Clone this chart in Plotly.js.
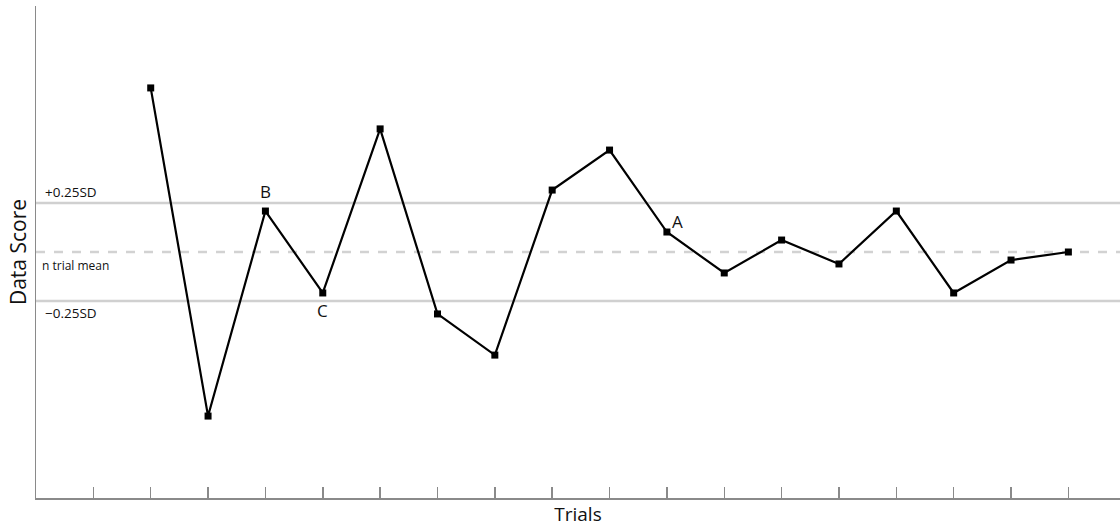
<!DOCTYPE html>
<html>
<head>
<meta charset="utf-8">
<script src="https://cdn.plot.ly/plotly-3.0.1.min.js"></script>
<style>html,body{margin:0;padding:0;background:#fff;}#chart{width:1120px;height:527px;}</style>
</head>
<body>
<div id="chart"></div>
<script>
// Data (score in SD units relative to the n-trial mean)
const trials = [2, 3, 4, 5, 6, 7, 8, 9, 10, 11, 12, 13, 14, 15, 16, 17, 18];
const scores = [0.837, -0.837, 0.209, -0.209, 0.628, -0.316, -0.526, 0.316, 0.520, 0.102, -0.107, 0.061, -0.061, 0.209, -0.209, -0.041, 0.0];
const tickTrials = [1, 2, 3, 4, 5, 6, 7, 8, 9, 10, 11, 12, 13, 14, 15, 16, 17, 18];
const bandLevels = [0.25, 0, -0.25];
const bandLabels = ["+0.25SD", "n trial mean", "\u22120.25SD"];
const pointLabels = [{x: 4, y: 0.209, t: "B"}, {x: 5, y: -0.209, t: "C"}, {x: 11, y: 0.102, t: "A"}];

const font = "'Open Sans', 'Liberation Sans', sans-serif";

const shapes = bandLevels.map((lv, i) => ({
  type: "line", xref: "paper", yref: "y", x0: 0, x1: 1, y0: lv, y1: lv,
  line: {color: i === 1 ? "#d2d2d2" : "#d0d0d0", width: 2.5, dash: i === 1 ? "dash" : "solid"},
  layer: "below"
}));

const annotations = [
  {xref: "paper", yref: "y", x: 0.006, y: bandLevels[0], text: bandLabels[0], showarrow: false,
   xanchor: "left", yanchor: "bottom", yshift: 0, font: {family: font, size: 13.5, color: "#111"}},
  {xref: "paper", yref: "y", x: 0.004, y: bandLevels[1], text: bandLabels[1], showarrow: false,
   xanchor: "left", yanchor: "top", yshift: -3, font: {family: font, size: 12, color: "#111"}},
  {xref: "paper", yref: "y", x: 0.006, y: bandLevels[2], text: bandLabels[2], showarrow: false,
   xanchor: "left", yanchor: "top", yshift: -1, font: {family: font, size: 13.5, color: "#111"}},
  {x: pointLabels[0].x, y: pointLabels[0].y, text: pointLabels[0].t, showarrow: false,
   xanchor: "center", yanchor: "bottom", yshift: 6, font: {family: font, size: 17, color: "#111"}},
  {x: pointLabels[1].x, y: pointLabels[1].y, text: pointLabels[1].t, showarrow: false,
   xanchor: "center", yanchor: "top", yshift: -4, font: {family: font, size: 17, color: "#111"}},
  {x: pointLabels[2].x, y: pointLabels[2].y, text: pointLabels[2].t, showarrow: false,
   xanchor: "left", yanchor: "bottom", xshift: 3, yshift: -3, font: {family: font, size: 17, color: "#111"}}
];

const trace = {
  x: trials, y: scores, type: "scatter", mode: "lines+markers",
  line: {color: "#000", width: 2.2},
  marker: {symbol: "square", size: 7, color: "#000"},
  hoverinfo: "skip"
};

const layout = {
  width: 1120, height: 527,
  margin: {l: 36, r: 0, t: 6, b: 29, pad: 0},
  paper_bgcolor: "#fff", plot_bgcolor: "#fff",
  showlegend: false,
  xaxis: {
    range: [0, 18.9], showgrid: false, zeroline: false,
    showline: true, linecolor: "#8a8a8a", linewidth: 1.5,
    tickmode: "array", tickvals: tickTrials, ticktext: tickTrials.map(() => ""),
    ticks: "inside", ticklen: 11, tickwidth: 1.5, tickcolor: "#8a8a8a",
    title: {text: "Trials", font: {family: font, size: 19, color: "#111"}, standoff: 9}
  },
  yaxis: {
    range: [-1.255, 1.255], showgrid: false, zeroline: false,
    showline: true, linecolor: "#8a8a8a", linewidth: 1.5,
    showticklabels: false, ticks: "",
    title: {text: "Data Score", font: {family: font, size: 21, color: "#111"}, standoff: 2}
  },
  shapes: shapes,
  annotations: annotations
};

Plotly.newPlot("chart", [trace], layout, {staticPlot: true, displayModeBar: false});
</script>
</body>
</html>
